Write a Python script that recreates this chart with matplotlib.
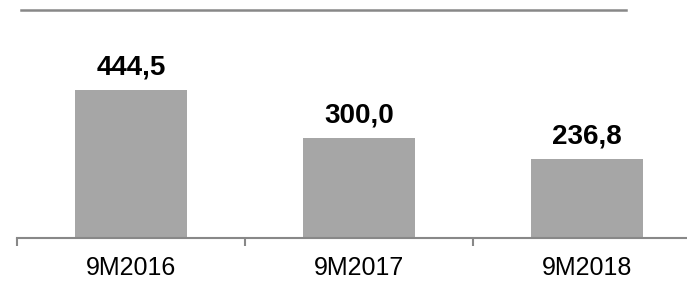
import matplotlib.pyplot as plt
from matplotlib.lines import Line2D

categories = ['9M2016', '9M2017', '9M2018']
values = [444.5, 300.0, 236.8]
value_labels = ['444,5', '300,0', '236,8']

plt.rcParams['font.family'] = ['Liberation Sans', 'DejaVu Sans']

fig = plt.figure(figsize=(6.87, 2.81), dpi=100)
# axis runs past the right edge like in the original
ax = fig.add_axes([17 / 687, 43 / 281, 684 / 687, 233 / 281])

x = range(len(categories))
ax.bar(x, values, width=0.49, color='#a6a6a6')
for i, (v, lab) in enumerate(zip(values, value_labels)):
    ax.annotate(lab, (i, v), xytext=(0, 11.5), textcoords='offset points',
                ha='center', va='baseline', fontsize=20, fontweight='bold')

ax.set_xlim(-0.5, 2.5)
ax.set_ylim(0, 700)
ax.set_xticks(list(x))
ax.set_xticklabels(categories, fontsize=18)
ax.tick_params(axis='x', which='major', length=0, pad=13)
ax.set_xticks([-0.5, 0.5, 1.5, 2.5], minor=True)
ax.tick_params(axis='x', which='minor', length=6, width=1.5, color='#888888')
ax.set_yticks([])
for s in ['top', 'right', 'left']:
    ax.spines[s].set_visible(False)
ax.spines['bottom'].set_color('#888888')
ax.spines['bottom'].set_linewidth(1.5)

# line at the top of the picture
fig.add_artist(Line2D([21 / 687, 626 / 687], [1 - 10 / 281, 1 - 10 / 281],
                      transform=fig.transFigure, color='#888888', lw=1.8))

fig.savefig('out.png', dpi=100)
